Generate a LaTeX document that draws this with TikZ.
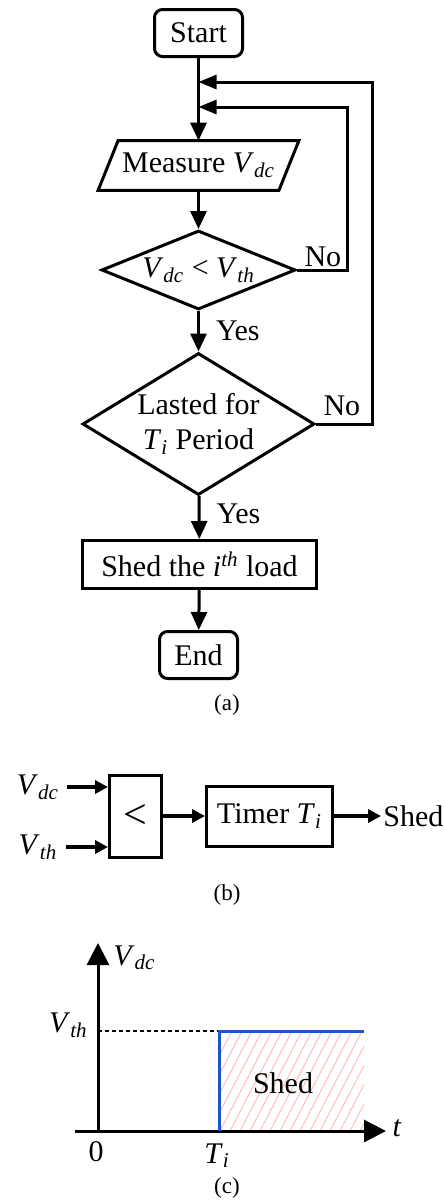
\documentclass[tikz,border=0pt]{standalone}
\usepackage{fontspec}
\setmainfont{Liberation Serif}
\usetikzlibrary{arrows.meta, shapes.geometric, calc}

\definecolor{stepblue}{RGB}{25,85,205}
\newcommand{\vsub}[2]{\textit{#1}\textsubscript{\textit{#2}}}

\begin{document}
\begin{tikzpicture}[
    x=0.5pt, y=-0.5pt,
    every node/.style={font=\fontsize{15}{17.5}\selectfont},
    terminal/.style={
        rectangle, rounded corners=4pt, draw=black, line width=1.5pt,
        minimum width=44pt, minimum height=23.5pt, inner sep=0pt
    },
    process/.style={
        rectangle, draw=black, line width=1.5pt,
        minimum width=117pt, minimum height=24pt, inner sep=0pt
    },
    decision/.style={
        diamond, draw=black, line width=1.5pt, inner sep=0pt, align=center
    },
    block/.style={rectangle, draw=black, line width=1.5pt, inner sep=0pt},
    flow/.style={-{Triangle[length=9pt, width=8pt]}, line width=1.5pt},
    feed/.style={-{Triangle[length=9pt, width=7pt]}, line width=1.5pt},
    signal/.style={-{Triangle[length=6.5pt, width=6.5pt]}, line width=1.75pt},
    axis/.style={-{Triangle[length=11pt, width=11pt]}, line width=1.5pt},
    hatch/.style={draw=red!30, line width=0.4pt},
    caption/.style={font=\fontsize{11.5}{13}\selectfont},
    lbl/.style={inner sep=1pt}
]
\useasboundingbox (0,0) rectangle (444,1200);

% (a) Flowchart
\node[terminal] (start) at (198.5, 33) {Start};
\node[minimum width=90pt, minimum height=24.5pt, inner sep=0pt] (measure) at (198.5, 165.5) {Measure \vsub{V}{dc}};
\draw[line width=1.5pt] ([xshift=5pt]measure.north west) -- ([xshift=5pt]measure.north east)
    -- ([xshift=-5pt]measure.south east) -- ([xshift=-5pt]measure.south west) -- cycle;
\node[decision, minimum width=97pt, minimum height=39.5pt, aspect=2.45] (dec1) at (198.5, 270) {\vsub{V}{dc} < \vsub{V}{th}};
\node[decision, minimum width=116pt, minimum height=71pt, aspect=1.64] (dec2) at (198.5, 424) {Lasted for\\ \vsub{T}{i} Period};
\node[process] (shed) at (199.5, 564.5) {Shed the \textit{i}\textsuperscript{\textit{th}} load};
\node[terminal, minimum width=39pt] (end) at (198.5, 655) {End};

% Loop joints
\coordinate (j1) at (198.5, 82);
\coordinate (j2) at (198.5, 107);

% Relationships
\draw[flow] (start) -- (measure);
\draw[flow] (measure) -- (dec1);
\draw[flow] (dec1) -- node[lbl, anchor=west, xshift=7pt] {Yes} (dec2);
\draw[flow] (dec2) -- node[lbl, anchor=west, xshift=7pt, yshift=2pt] {Yes} (shed);
\draw[flow] (shed) -- (end);
\draw[feed] (dec1.east) node[lbl, anchor=south west, xshift=2pt] {No} -- (347, 270) |- (j2);
\draw[feed] (dec2.east) node[lbl, anchor=south west, xshift=2pt, yshift=2.5pt] {No} -- (372, 424) |- (j1);

\node[caption] (capa) at (227, 705) {(a)};

% (b) Block diagram
\node[block, minimum width=26pt, minimum height=41pt] (cmp) at (135.5, 816) {\fontsize{21}{24}\selectfont <};
\node[block, minimum width=63pt, minimum height=30pt] (timer) at (269.5, 816) {Timer \vsub{T}{i}};
\node[lbl, inner sep=4pt] (vdcin) at (38, 787) {\vsub{V}{dc}};
\node[lbl, inner sep=4pt] (vthin) at (38, 847) {\vsub{V}{th}};
\node[lbl, anchor=west] (shedout) at (381, 816) {Shed};

\draw[signal] (vdcin.east) -- (vdcin.east -| cmp.west);
\draw[signal] (vthin.east) -- (vthin.east -| cmp.west);
\draw[signal] (cmp) -- (timer);
\draw[signal] (timer) -- (shedout);

\node[caption] (capb) at (227, 895) {(b)};

% (c) Shedding curve
\coordinate (origin) at (98, 1131);
\coordinate (ytop) at (98, 943);
\coordinate (xleft) at (75, 1131);
\coordinate (xright) at (386, 1131);
\coordinate (thr) at (98, 1031);
\coordinate (tstep) at (219, 1131);
\coordinate (tend) at (364, 1031);

\begin{scope}
    \clip (tstep) rectangle (tend);
    \foreach \k in {0,...,22}
        \draw[hatch] (150+\k*10, 1131) -- ++(52,-100);
\end{scope}

\draw[dashed, dash pattern=on 2pt off 1.5pt, line width=0.6pt] (thr) -- (thr -| tstep);
\draw[axis] (xleft) -- (xright);
\draw[axis] (origin) -- (ytop);
\draw[stepblue, line width=1.5pt] (tstep) -- (tstep |- thr) -- (tend);

\node[lbl, anchor=north west] (ylab) at (111, 943) {\vsub{V}{dc}};
\node[lbl, anchor=east] (thlab) at (90, 1025) {\vsub{V}{th}};
\node[lbl] (zero) at (96, 1152) {0};
\node[lbl] (tilab) at (217, 1156) {\vsub{T}{i}};
\node[lbl] (tlab) at (397, 1128) {\textit{t}};
\node[lbl] (shedlab) at (283, 1083) {Shed};

\node[caption] (capc) at (227, 1188) {(c)};

\end{tikzpicture}
\end{document}
